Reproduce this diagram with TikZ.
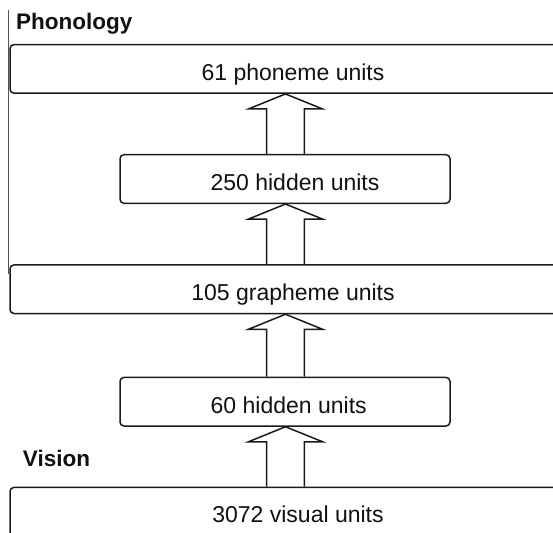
\documentclass[tikz,border=0pt]{standalone}
\usepackage{fontspec}
\setmainfont{Liberation Sans}
\usetikzlibrary{calc}
\definecolor{linec}{HTML}{1A1A1A}
\definecolor{txtc}{HTML}{111111}
\begin{document}
\begin{tikzpicture}[x=1pt,y=-1pt,
  box/.style={draw=linec, line width=1.5pt, rounded corners=4pt, inner sep=0pt, minimum height=48.6pt},
  widebox/.style={box, minimum width=560pt},
  hidbox/.style={box, minimum width=330pt},
  lbl/.style={font=\fontsize{23}{27}\selectfont, text=txtc, inner sep=0pt, anchor=base},
  head/.style={font=\bfseries\fontsize{22.5}{27}\selectfont, text=txtc, inner sep=0pt, anchor=base west},
  barrow/.style={draw=linec, line width=1.5pt, line join=miter}]
\useasboundingbox (0,0) rectangle (553,532);
\fill[white] (0,0) rectangle (553,532);
\clip (0,0) rectangle (553,532);

% left rule of the phonology region
\coordinate (ruletop) at (8,10);
\coordinate (rulebot) at (8,274);
\draw[linec!75, line width=1pt] (ruletop) -- (rulebot);

% headings
\node[head] (phon) at (16,30) {Phonology};
\node[head] (vis) at (22.7,466) {Vision};

% boxes
\node[widebox] (phoneme) at (290,68.9) {};
\node[hidbox]  (h250)    at (285,179)  {};
\node[widebox] (graph)   at (290,289.2) {};
\node[hidbox]  (h60)     at (285,401.7) {};
\node[widebox] (visual)  at (290,511.7) {};

% labels
\node[lbl] (tphoneme) at (293,80.5)  {61 phoneme units};
\node[lbl] (th250)    at (295,190.7) {250 hidden units};
\node[lbl] (tgraph)   at (293,300.8) {105 grapheme units};
\node[lbl] (th60)     at (288.7,413.3) {60 hidden units};
\node[lbl] (tvisual)  at (298,522.5) {3072 visual units};

% block arrows
\coordinate (axis) at (285.5,0);
\newcommand\blockarr[2]{%
  \draw[barrow] let \p1=(#1.north), \p2=(#2.south), \p3=(axis) in
    (\x3-18.8pt,\y1) -- (\x3-18.8pt,\y2-15pt) -- (\x3-37pt,\y2-15pt) --
    (\x3,\y2) -- (\x3+37pt,\y2-15pt) -- (\x3+18.8pt,\y2-15pt) -- (\x3+18.8pt,\y1);}
\blockarr{h250}{phoneme}
\blockarr{graph}{h250}
\blockarr{h60}{graph}
\blockarr{visual}{h60}
\end{tikzpicture}
\end{document}
